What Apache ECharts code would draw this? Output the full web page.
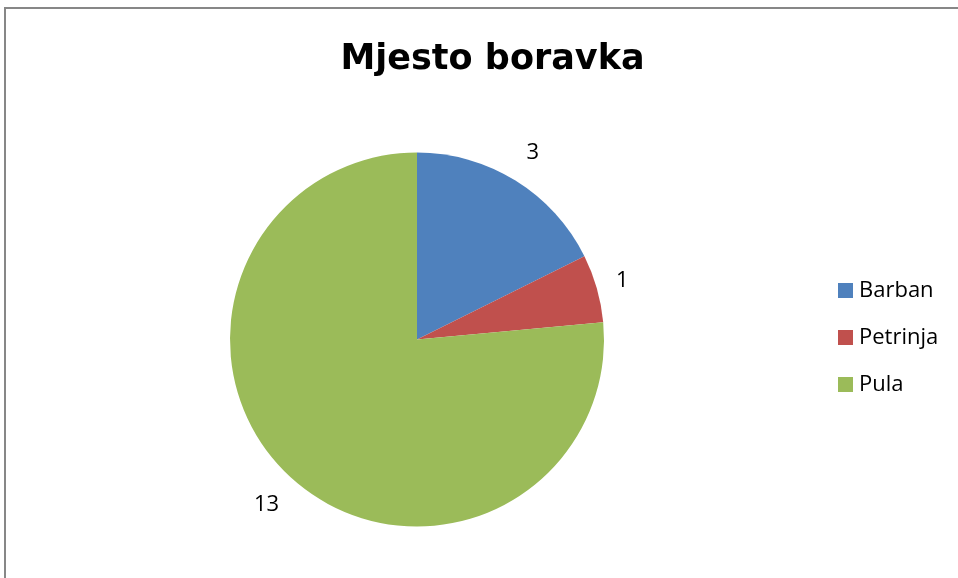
<!DOCTYPE html>
<html>
<head>
<meta charset="utf-8">
<script src="https://cdn.jsdelivr.net/npm/echarts@6/dist/echarts.min.js"></script>
<style>html,body{margin:0;padding:0;background:#fff}#c{width:958px;height:578px}</style>
</head>
<body>
<div id="c"></div>
<script>
const categories = ['Barban', 'Petrinja', 'Pula'];
const values = [3, 1, 13];
const colors = ['#4F81BD', '#C0504D', '#9BBB59'];
const titleText = 'Mjesto boravka';

const CX = 417, CY = 339.5, R = 187, GAP = 16;
const total = values.reduce((a, b) => a + b, 0);

const chart = echarts.init(document.getElementById('c'), null, {renderer: 'canvas'});
chart.setOption({
  animation: false,
  color: colors,
  graphic: [{
    type: 'rect',
    shape: {x: 5, y: 8, width: 1000, height: 620},
    style: {fill: 'none', stroke: '#878787', lineWidth: 2}
  }],
  title: {
    text: titleText,
    left: 487.5, top: 37, textAlign: 'center',
    textStyle: {fontFamily: 'DejaVu Sans', fontWeight: 'bold', fontSize: 35, color: '#000'}
  },
  legend: {
    orient: 'vertical',
    left: 838, top: 278.5, padding: 0,
    itemWidth: 15, itemHeight: 15, itemGap: 23,
    icon: 'rect',
    textStyle: {fontFamily: 'Open Sans', fontSize: 22, lineHeight: 24, color: '#000', padding: [0, 0, 0, 1]},
    data: categories
  },
  series: [{
    type: 'pie',
    center: [CX, CY],
    radius: R,
    startAngle: 90,
    clockwise: true,
    data: categories.map((c, i) => ({name: c, value: values[i]})),
    label: {
      show: true, position: 'outside', formatter: '{c}',
      fontFamily: 'Open Sans', fontSize: 22, color: '#000'
    },
    labelLine: {show: false},
    labelLayout: function (p) {
      let before = 0;
      for (let k = 0; k < p.dataIndex; k++) before += values[k];
      const mid = (before + values[p.dataIndex] / 2) / total * 2 * Math.PI;
      const dx = Math.sin(mid), dy = -Math.cos(mid);
      const w = p.labelRect.width, h = p.labelRect.height + 10;
      const d = R + GAP + 0.5 * (Math.abs(dx) * w + Math.abs(dy) * h);
      return {x: CX + dx * d, y: CY + dy * d, align: 'center', verticalAlign: 'middle'};
    },
    itemStyle: {borderWidth: 0},
    emphasis: {disabled: true}
  }]
});
</script>
</body>
</html>
